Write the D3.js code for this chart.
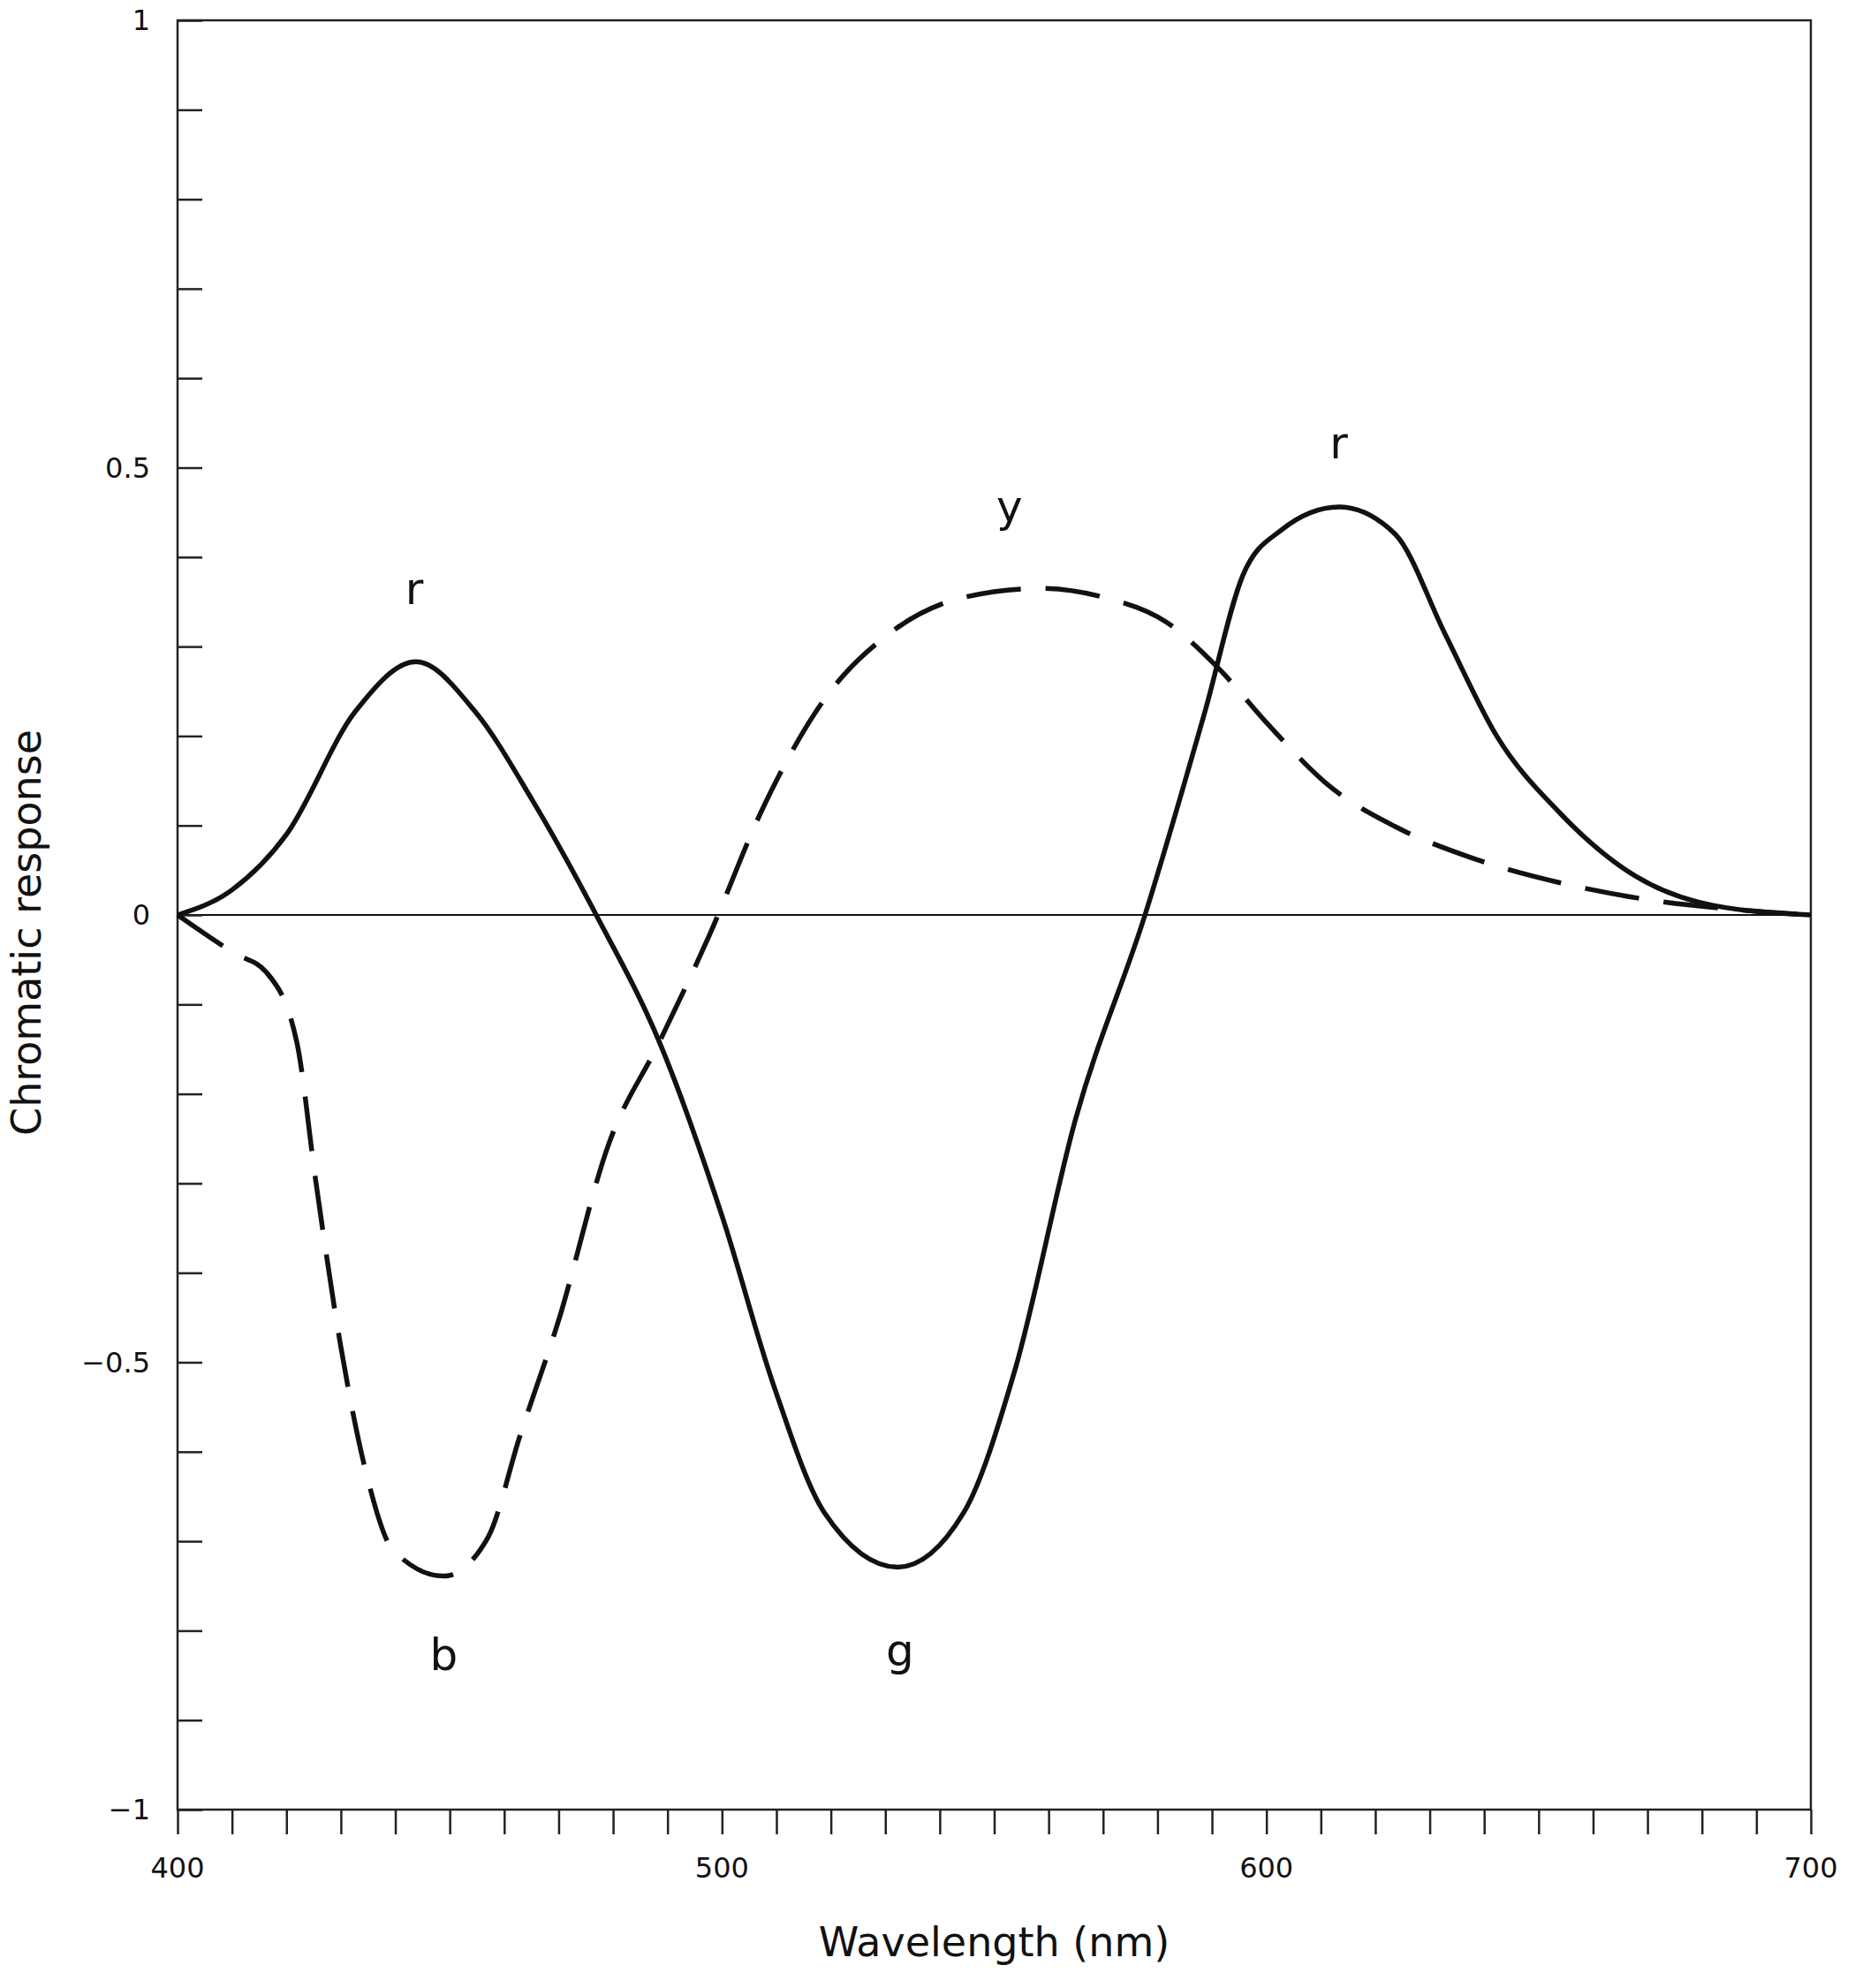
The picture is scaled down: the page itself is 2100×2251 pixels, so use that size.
<!DOCTYPE html>
<html>
<head>
<meta charset="utf-8">
<script src="https://cdn.jsdelivr.net/npm/d3@7"></script>
<style>
body { margin: 0; background: #fff; }
text { font-family: "DejaVu Sans", sans-serif; fill: #111; }
</style>
</head>
<body>
<div id="chart"></div>
<script>
// red-green chromatic response (solid)
const rgWave = [400, 410, 420, 432.6, 443.8, 454.7, 465.2, 476.9, 488.5, 500.2, 509.5, 518.8, 532.3, 544.4, 553.7, 565, 577.7, 588.7, 595.7, 602.7, 613.4, 623.6, 632.9, 642.3, 653.9, 667.9, 681.8, 700];
const rgValue = [0, 0.028, 0.09, 0.227, 0.283, 0.227, 0.128, 0, -0.142, -0.34, -0.526, -0.668, -0.729, -0.668, -0.511, -0.227, 0, 0.227, 0.38, 0.43, 0.456, 0.426, 0.313, 0.2, 0.114, 0.043, 0.011, 0];
// blue-yellow chromatic response (dashed)
const byWave = [400, 410.5, 416.3, 421.9, 425.4, 430, 434.7, 439.6, 448.9, 457, 462.9, 469.9, 479.2, 488.5, 497.8, 507.1, 518.8, 530.4, 544.4, 558.4, 570.1, 581.7, 591, 600.3, 612, 623.6, 637.6, 653.9, 670.2, 686.5, 700];
const byValue = [0, -0.043, -0.064, -0.142, -0.298, -0.483, -0.625, -0.71, -0.739, -0.696, -0.582, -0.455, -0.256, -0.142, -0.021, 0.114, 0.241, 0.313, 0.355, 0.365, 0.355, 0.327, 0.277, 0.213, 0.142, 0.099, 0.064, 0.036, 0.017, 0.006, 0];
const labelText = ["r", "r", "y", "b", "g"];
const labelWave = [443.5, 613.3, 552.8, 448.9, 532.7];
const labelValue = [0.365, 0.528, 0.457, -0.827, -0.822];
const xTickLabels = [400, 500, 600, 700];
const yTickLabels = [1, 0.5, 0, -0.5, -1];

const width = 2100, height = 2251;
const mLeft = 201, mRight = 2050, mTop = 23, mBottom = 2049;
const svg = d3.select('#chart').append('svg').attr('width', width).attr('height', height);

const x = d3.scaleLinear().domain([400, 700]).range([mLeft, mRight]);
const y = d3.scaleLinear().domain([-1, 1]).range([mBottom, mTop]);

// frame
svg.append('rect').attr('x', mLeft).attr('y', mTop).attr('width', mRight - mLeft).attr('height', mBottom - mTop)
    .attr('fill', 'none').attr('stroke', '#222').attr('stroke-width', 2.5);

// zero line
svg.append('line').attr('x1', x(400)).attr('x2', x(700)).attr('y1', y(0)).attr('y2', y(0))
    .attr('stroke', '#111').attr('stroke-width', 2);

// x axis: minor ticks every 10 nm pointing outward
const xAxis = svg.append('g').attr('transform', `translate(0,${mBottom})`)
    .call(d3.axisBottom(x).tickValues(d3.range(400, 701, 10)).tickSize(28).tickFormat(''));
xAxis.select('.domain').remove();
xAxis.selectAll('line').attr('stroke', '#222').attr('stroke-width', 2.5);
svg.selectAll('.xlab').data(xTickLabels).enter().append('text')
    .attr('x', d => x(d)).attr('y', 2126).attr('text-anchor', 'middle')
    .attr('font-size', 32).text(d => d);

// y axis: ticks every 0.1 pointing inward
const yAxis = svg.append('g').attr('transform', `translate(${mLeft},0)`)
    .call(d3.axisRight(y).tickValues(d3.range(-10, 11).map(d => d / 10)).tickSize(28).tickFormat(''));
yAxis.select('.domain').remove();
yAxis.selectAll('line').attr('stroke', '#222').attr('stroke-width', 2.5);
svg.selectAll('.ylab').data(yTickLabels).enter().append('text')
    .attr('x', 170).attr('y', d => y(d)).attr('dy', '0.35em').attr('text-anchor', 'end')
    .attr('font-size', 32).text(d => d < 0 ? '\u2212' + Math.abs(d) : d);

// curves
const line = d3.line().x(d => x(d[0])).y(d => y(d[1])).curve(d3.curveMonotoneX);
svg.append('path').datum(d3.zip(rgWave, rgValue)).attr('d', line)
    .attr('fill', 'none').attr('stroke', '#111').attr('stroke-width', 5.5);
svg.append('path').datum(d3.zip(byWave, byValue)).attr('d', line)
    .attr('fill', 'none').attr('stroke', '#111').attr('stroke-width', 5.5)
    .attr('stroke-dasharray', '62,28');

// curve labels
svg.selectAll('.clab').data(labelText).enter().append('text')
    .attr('x', (d, i) => x(labelWave[i])).attr('y', (d, i) => y(labelValue[i]))
    .attr('dy', '0.35em').attr('text-anchor', 'middle').attr('font-size', 50).text(d => d);

// axis titles
svg.append('text').attr('x', (mLeft + mRight) / 2).attr('y', 2215).attr('text-anchor', 'middle')
    .attr('font-size', 46).text('Wavelength (nm)');
svg.append('text').attr('transform', `translate(46,${(mTop + mBottom) / 2 + 20}) rotate(-90)`)
    .attr('text-anchor', 'middle').attr('font-size', 46).text('Chromatic response');
</script>
</body>
</html>
